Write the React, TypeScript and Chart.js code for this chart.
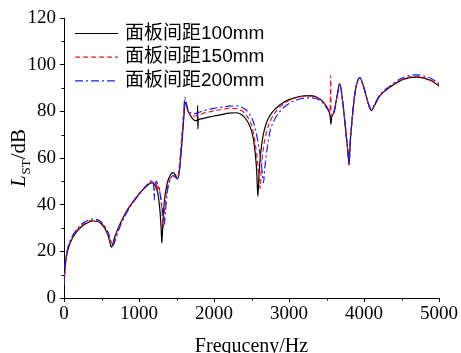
import { useEffect, useRef } from 'react';
import { Chart, registerables } from 'chart.js';

Chart.register(...registerables);

const seriesLabels = ['面板间距100mm', '面板间距150mm', '面板间距200mm'];
const seriesColors = ['#000000', '#e3171f', '#1c1ce0'];
const seriesDashes = [[], [5, 3], [8, 3, 2, 3]];

const freq100 = [0, 15, 40, 70, 110, 160, 220, 300, 380, 450, 500, 550, 590, 615, 630, 645, 670, 710, 780, 860, 950, 1050, 1130, 1175, 1215, 1250, 1275, 1295, 1305, 1318, 1340, 1375, 1420, 1455, 1490, 1510, 1530, 1555, 1585, 1620, 1650, 1700, 1750, 1778, 1782, 1785, 1790, 1830, 1900, 2000, 2100, 2200, 2300, 2370, 2430, 2480, 2520, 2550, 2570, 2585, 2600, 2625, 2660, 2710, 2780, 2880, 3000, 3100, 3200, 3300, 3400, 3460, 3510, 3540, 3552, 3558, 3570, 3600, 3635, 3676, 3720, 3765, 3790, 3800, 3815, 3840, 3877, 3910, 3944, 3990, 4033, 4070, 4100, 4140, 4211, 4345, 4523, 4702, 4880, 4960, 5000];
const stl100 = [5.5, 13, 19, 22.5, 25.5, 28, 30.2, 32, 33, 32.8, 31.7, 29.5, 26.5, 23.5, 21.8, 22.5, 25.5, 29, 34, 38.5, 42.5, 46.3, 48.8, 49.3, 48.2, 45, 39, 30, 23.5, 32, 42, 49, 52.8, 53.7, 52.5, 51, 52.5, 60, 72, 83.7, 80.5, 77.5, 76, 76, 82.5, 72.5, 76.3, 76.8, 77.3, 78, 78.6, 79.2, 79.4, 78.5, 76.5, 73.5, 69, 62, 54, 43.5, 53, 63, 70.5, 76, 79.8, 82.8, 85, 86, 86.6, 86.7, 85.5, 83.8, 81.5, 79.5, 77, 74.5, 77.5, 79.5, 85.5, 91.8, 83, 69, 61, 57, 66, 76, 87.4, 92.5, 94.4, 91, 86, 82, 80.3, 82.5, 86.6, 90.3, 93.7, 94.7, 93.3, 91.8, 90.8];

const freq150 = [0, 15, 40, 70, 110, 160, 220, 300, 380, 450, 500, 550, 590, 620, 640, 660, 690, 730, 800, 880, 970, 1060, 1140, 1190, 1225, 1240, 1255, 1285, 1305, 1323, 1338, 1360, 1400, 1440, 1475, 1505, 1525, 1550, 1580, 1615, 1645, 1690, 1750, 1800, 1900, 2000, 2100, 2200, 2300, 2380, 2450, 2510, 2550, 2585, 2605, 2616, 2630, 2660, 2700, 2760, 2840, 2940, 3050, 3150, 3250, 3350, 3430, 3490, 3530, 3548, 3552, 3556, 3560, 3580, 3610, 3640, 3676, 3720, 3765, 3790, 3800, 3815, 3840, 3877, 3910, 3944, 3990, 4033, 4070, 4100, 4140, 4211, 4345, 4523, 4702, 4880, 4960, 5000];
const stl150 = [5.5, 13.5, 19.5, 23, 26, 28.5, 30.7, 32.5, 33.3, 33, 32, 30, 27, 24.3, 22.5, 23.5, 26.5, 30, 35, 39.5, 43.5, 47, 49.3, 49.8, 49.5, 46, 48.5, 44, 38, 30, 37, 44, 50, 52.5, 52, 51.2, 53, 61, 73, 85, 81, 78.3, 78, 78.5, 79.5, 80.2, 80.8, 81.3, 81.2, 80, 77.5, 73, 66, 57, 50, 47, 55, 64.5, 71, 76.5, 80.5, 83.5, 85.3, 86.2, 86.5, 86.2, 84.8, 82.5, 80.5, 79.5, 88, 95.3, 80.5, 78.5, 81, 86, 91.8, 83, 69, 61, 57.2, 66, 76, 87.4, 92.5, 94.4, 91, 86, 82, 80.4, 82.6, 86.7, 90.4, 93.9, 95, 93.6, 92.2, 91.3];

const freq200 = [0, 15, 40, 70, 110, 160, 220, 300, 380, 450, 500, 550, 595, 625, 650, 670, 700, 740, 810, 890, 980, 1070, 1140, 1185, 1198, 1203, 1210, 1230, 1260, 1290, 1315, 1337, 1352, 1375, 1415, 1455, 1490, 1515, 1535, 1560, 1590, 1612, 1640, 1680, 1740, 1800, 1900, 2000, 2100, 2200, 2300, 2400, 2470, 2530, 2580, 2620, 2645, 2660, 2675, 2700, 2740, 2800, 2880, 2960, 3050, 3150, 3250, 3350, 3430, 3490, 3530, 3556, 3575, 3610, 3640, 3676, 3720, 3765, 3790, 3800, 3815, 3840, 3877, 3910, 3944, 3990, 4033, 4070, 4100, 4140, 4211, 4345, 4523, 4702, 4880, 4960, 5000];
const stl200 = [6, 14, 20, 23.5, 26.5, 29, 31.3, 33, 33.8, 33.5, 32.5, 30.5, 27.5, 24.5, 22.5, 23.5, 26.5, 30, 35, 39.5, 43.5, 47, 49.7, 50.3, 47, 42, 47, 50, 47.5, 43, 37, 31.5, 37, 45, 50.5, 52.5, 52, 51, 53.5, 62, 75, 86, 82, 79.5, 79, 79.6, 80.6, 81.3, 81.8, 82.2, 82.3, 81.2, 79, 75, 68, 60, 53, 49.4, 55, 62, 70.5, 76, 80, 82.5, 84.2, 85.3, 85.8, 85.6, 84.2, 82, 80, 78, 78.5, 81, 86, 91.8, 83, 69, 61, 57.5, 66, 76, 87.4, 92.5, 94.5, 91, 86.2, 82.3, 80.8, 83, 87, 90.8, 94.5, 95.6, 94.3, 92.8, 92];

const xMin = 0, xMax = 5000, xStep = 1000;
const yMin = 0, yMax = 120, yStep = 20;

const toPoints = (fs: number[], vs: number[]) => fs.map((f, i) => ({ x: f, y: vs[i] }));

const decor = {
  id: 'decor',
  afterDraw(chart: any) {
    const { ctx, chartArea: a, scales } = chart;
    const x = scales.x, y = scales.y;
    ctx.save();
    ctx.strokeStyle = '#000';
    ctx.lineWidth = 1;
    for (let v = xMin + xStep / 2; v < xMax; v += xStep) {
      const px = Math.round(x.getPixelForValue(v)) + 0.5;
      ctx.beginPath();
      ctx.moveTo(px, a.bottom);
      ctx.lineTo(px, a.bottom + 2.5);
      ctx.stroke();
    }
    for (let v = yMin + yStep / 2; v < yMax; v += yStep) {
      const py = Math.round(y.getPixelForValue(v)) + 0.5;
      ctx.beginPath();
      ctx.moveTo(a.left, py);
      ctx.lineTo(a.left - 2.5, py);
      ctx.stroke();
    }
    ctx.textBaseline = 'middle';
    ctx.textAlign = 'left';
    ctx.font = '19px "Liberation Sans", "Noto Sans CJK SC", sans-serif';
    chart.data.datasets.forEach((ds: any, i: number) => {
      const ly = a.top + 15.5 + i * 23.7;
      ctx.save();
      ctx.strokeStyle = ds.borderColor;
      ctx.lineWidth = 1.2;
      ctx.setLineDash(ds.borderDash || []);
      ctx.beginPath();
      ctx.moveTo(a.left + 11, ly);
      ctx.lineTo(a.left + 54, ly);
      ctx.stroke();
      ctx.restore();
      ctx.fillStyle = '#000';
      ctx.fillText(ds.label, a.left + 61, ly);
    });
    ctx.fillStyle = '#000';
    ctx.textAlign = 'center';
    ctx.textBaseline = 'alphabetic';
    ctx.font = '20px "Liberation Serif", serif';
    ctx.fillText('Frequceny/Hz', (a.left + a.right) / 2, 352);
    ctx.save();
    ctx.translate(25, (a.top + a.bottom) / 2);
    ctx.rotate(-Math.PI / 2);
    ctx.textAlign = 'left';
    const mainFont = '21px "Liberation Serif", serif';
    const italicFont = 'italic 21px "Liberation Serif", serif';
    const subFont = '13px "Liberation Serif", serif';
    ctx.font = italicFont; const wL = ctx.measureText('L').width + 1;
    ctx.font = subFont; const wS = ctx.measureText('ST').width;
    ctx.font = mainFont; const wR = ctx.measureText('/dB').width;
    let u = -(wL + wS + wR) / 2;
    ctx.font = italicFont; ctx.fillText('L', u, 0); u += wL;
    ctx.font = subFont; ctx.fillText('ST', u, 5); u += wS;
    ctx.font = mainFont; ctx.fillText('/dB', u, 0);
    ctx.restore();
    ctx.restore();
  },
};

export default function App() {
  const ref = useRef<HTMLCanvasElement>(null);
  useEffect(() => {
    document.body.style.margin = '0';
    const datasets = [
      toPoints(freq100, stl100),
      toPoints(freq150, stl150),
      toPoints(freq200, stl200),
    ].map((data, i) => ({
      label: seriesLabels[i],
      data,
      borderColor: seriesColors[i],
      backgroundColor: seriesColors[i],
      borderDash: seriesDashes[i],
      borderWidth: 1.2,
      pointRadius: 0,
      cubicInterpolationMode: 'monotone' as const,
      fill: false,
      order: 3 - i,
    }));
    const tickFont = { family: '"Liberation Serif", serif', size: 19 };
    const plain = (v: any) => String(v);
    const chart = new Chart(ref.current!, {
      type: 'line',
      data: { datasets },
      plugins: [decor],
      options: {
        animation: false,
        responsive: false,
        devicePixelRatio: 1,
        layout: { padding: { top: 18, right: 22, left: 0, bottom: 0 } },
        plugins: { legend: { display: false }, tooltip: { enabled: false } },
        scales: {
          x: {
            type: 'linear',
            min: xMin,
            max: xMax,
            afterFit: (s: any) => { s.height = 55; },
            ticks: { stepSize: xStep, color: '#000', font: tickFont, padding: 1, maxRotation: 0, callback: plain },
            grid: { drawOnChartArea: false, color: '#000', tickLength: 4 },
            border: { color: '#000', width: 1 },
          },
          y: {
            type: 'linear',
            min: yMin,
            max: yMax,
            afterFit: (s: any) => { s.width = 64; },
            ticks: { stepSize: yStep, color: '#000', font: tickFont, padding: 4, callback: plain },
            grid: { drawOnChartArea: false, color: '#000', tickLength: 4 },
            border: { color: '#000', width: 1 },
          },
        },
      },
    });
    return () => chart.destroy();
  }, []);
  return (
    <div style={{ position: 'fixed', left: 0, top: 0, width: 461, height: 353, background: '#fff' }}>
      <canvas ref={ref} width={461} height={353} style={{ width: 461, height: 353, display: 'block' }} />
    </div>
  );
}
